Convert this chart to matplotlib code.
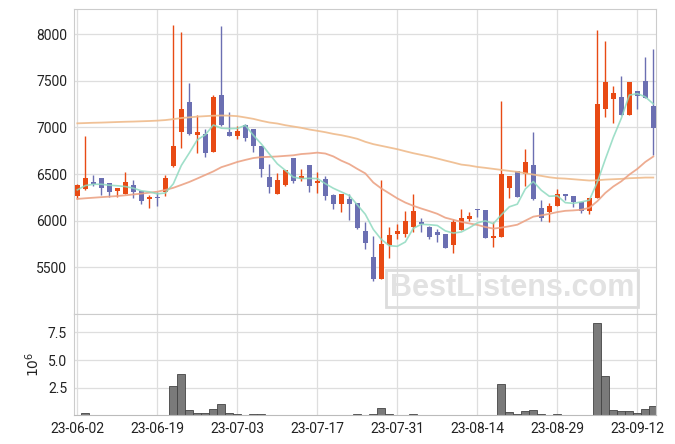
import matplotlib
matplotlib.use('Agg')
import matplotlib.pyplot as plt
import numpy as np
import pandas as pd

plt.rcParams['font.family'] = ['Roboto', 'DejaVu Sans']

# daily candles (index = trading day)
opens = [6269, 6340, 6415, 6455, 6401, 6322, 6290, 6383, 6315, 6233,
         6254, 6305, 6590, 6945, 7273, 6923, 6930, 6734, 7349, 6952,
         6902, 7027, 6984, 6802, 6473, 6283, 6387, 6673, 6451, 6594,
         6408, 6448, 6276, 6183, 6233, 6190, 5890, 5611, 5378, 5739,
         5854, 5854, 5929, 5990, 5932, 5879, 5857, 5743, 5900, 6018,
         6125, 6111, 5818, 5829, 6355, 6533, 6505, 6598, 6133, 6097,
         6161, 6283, 6262, 6197, 6108, 6247, 7192, 7302, 7328, 7127,
         7392, 7499, 7231]
highs = [6394, 6909, 6487, 6455, 6401, 6355, 6526, 6433, 6315, 6276,
         6312, 6494, 8100, 8021, 7473, 7131, 6981, 7345, 8089, 7163,
         7016, 7038, 6984, 6802, 6609, 6516, 6541, 6673, 6558, 6594,
         6526, 6480, 6290, 6287, 6283, 6190, 5990, 5832, 6435, 5936,
         5961, 6108, 6287, 6026, 5943, 5907, 5857, 6018, 6129, 6097,
         6130, 6111, 5986, 7285, 6476, 6533, 6770, 6948, 6219, 6190,
         6340, 6283, 6262, 6197, 6247, 8046, 7925, 7446, 7553, 7488,
         7392, 7757, 7839]
lows = [6233, 6330, 6376, 6276, 6251, 6258, 6290, 6240, 6176, 6133,
        6158, 6265, 6576, 6780, 6923, 6723, 6687, 6734, 7016, 6902,
        6880, 6855, 6734, 6465, 6294, 6283, 6376, 6401, 6423, 6305,
        6297, 6219, 6122, 6090, 6004, 5915, 5693, 5353, 5378, 5596,
        5800, 5829, 5875, 5875, 5800, 5775, 5707, 5650, 5900, 6000,
        6040, 5818, 5714, 5829, 6240, 6258, 6376, 6222, 5997, 5983,
        6161, 6219, 6144, 6086, 6068, 6247, 7116, 7045, 7134, 7127,
        7195, 7313, 6705]
closes = [6383, 6455, 6394, 6355, 6312, 6355, 6412, 6308, 6215, 6254,
          6247, 6458, 6801, 7199, 6926, 6952, 6723, 7327, 7027, 6902,
          6963, 6891, 6795, 6558, 6365, 6437, 6541, 6430, 6483, 6376,
          6426, 6269, 6183, 6287, 6183, 5925, 5764, 5374, 5750, 5847,
          5890, 5997, 6104, 5968, 5825, 5850, 5707, 5986, 6026, 6047,
          6115, 5818, 5832, 6501, 6476, 6258, 6630, 6233, 6033, 6154,
          6283, 6262, 6197, 6108, 6247, 7249, 7488, 7367, 7134, 7488,
          7331, 7313, 6991]
# volume in millions
volumes = [0.02, 0.18, 0.02, 0.02, 0.02, 0.02, 0.02, 0.02, 0.02, 0.02,
           0.02, 0.02, 2.64, 3.75, 0.48, 0.18, 0.18, 0.57, 1.0, 0.18,
           0.09, 0.03, 0.08, 0.08, 0.02, 0.02, 0.02, 0.02, 0.02, 0.02,
           0.02, 0.02, 0.02, 0.02, 0.02, 0.09, 0.02, 0.09, 0.64, 0.09,
           0.02, 0.02, 0.09, 0.02, 0.02, 0.02, 0.02, 0.02, 0.02, 0.02,
           0.02, 0.02, 0.02, 2.85, 0.27, 0.09, 0.36, 0.48, 0.09, 0.02,
           0.09, 0.02, 0.02, 0.02, 0.02, 8.36, 3.57, 0.48, 0.39, 0.39,
           0.18, 0.57, 0.85]

# moving averages: first values come from days before the window shown
ma5_head = [6330, 6376, 6390, 6390]
ma20_head = [6233, 6240, 6246, 6252, 6258, 6264, 6272, 6281, 6290, 6300,
             6310, 6330, 6352, 6383, 6415, 6452, 6490, 6528, 6573]
ma60 = [7043, 7046, 7049, 7051, 7054, 7057, 7060, 7062, 7065, 7068,
        7072, 7078, 7088, 7100, 7107, 7115, 7120, 7125, 7127, 7125,
        7120, 7106, 7091, 7070, 7052, 7041, 7023, 7009, 6995, 6977,
        6963, 6948, 6930, 6916, 6898, 6877, 6845, 6820, 6802, 6784,
        6766, 6744, 6723, 6705, 6687, 6666, 6644, 6623, 6601, 6591,
        6576, 6566, 6555, 6544, 6533, 6523, 6508, 6494, 6480, 6465,
        6455, 6451, 6444, 6437, 6430, 6433, 6440, 6444, 6448, 6455,
        6458, 6462, 6462]

tick_pos = [0, 10, 20, 30, 40, 50, 60, 70]
tick_labels = ['23-06-02', '23-06-19', '23-07-03', '23-07-17',
               '23-07-31', '23-08-14', '23-08-29', '23-09-12']

up_color = '#e84a14'
down_color = '#6b6fb2'

c = pd.Series(closes, dtype=float)
ma5 = c.rolling(5).mean().values
ma5[:4] = ma5_head
ma20 = c.rolling(20).mean().values
ma20[:19] = ma20_head

x = np.arange(len(closes))
o = np.array(opens)
cl = np.array(closes)
colors = [up_color if cc >= oo else down_color for oo, cc in zip(o, cl)]

fig = plt.figure(figsize=(6.75, 4.44), dpi=100)
ax = fig.add_axes([0.1096, 0.2928, 0.8618, 0.6869])
ax2 = fig.add_axes([0.1096, 0.0646, 0.8618, 0.2282], sharex=ax)

for a in (ax, ax2):
    a.grid(True, color='#dedede', linewidth=0.9)
    a.set_axisbelow(True)
    for s in a.spines.values():
        s.set_color('#cccccc')
    a.tick_params(length=0, labelsize=10, colors='#222222')

ax.vlines(x, lows, highs, colors=colors, linewidth=1.0, zorder=2)
ax.bar(x, np.abs(cl - o), bottom=np.minimum(o, cl), width=0.62,
       color=colors, zorder=3)
ax.plot(x, ma60, color='#efbb8c', linewidth=1.3, alpha=0.9, zorder=4)
ax.plot(x, ma20, color='#eca385', linewidth=1.3, alpha=0.9, zorder=4)
ax.plot(x, ma5, color='#8fdac0', linewidth=1.2, alpha=0.85, zorder=4)

ax.set_ylim(5000, 8268)
ax.set_yticks([5500, 6000, 6500, 7000, 7500, 8000])
ax.set_xlim(-0.42, 72.3)
ax.tick_params(axis='x', labelbottom=False)
ax.tick_params(axis='y', pad=5)

ax.text(0.753, 0.084, 'BestListens.com', transform=ax.transAxes,
        ha='center', va='center', fontsize=22, fontweight='bold',
        family='Liberation Sans', color='#e2e2e2', zorder=1,
        bbox=dict(boxstyle='square,pad=0.12', facecolor='none',
                  edgecolor='#dcdcdc', linewidth=2))

ax2.bar(x, volumes, width=1.0, color='#7a7a7a', edgecolor='#444444',
        linewidth=0.6, zorder=2)
ax2.set_ylim(0, 9.16)
ax2.set_yticks([2.5, 5.0, 7.5])
ax2.set_yticklabels(['2.5', '5.0', '7.5'])
ax2.set_xticks(tick_pos)
ax2.set_xticklabels(tick_labels)
ax2.tick_params(axis='x', pad=5)
ax2.tick_params(axis='y', pad=5)
ax2.spines['bottom'].set_color('#bbbbbb')
ax2.set_ylabel(r'$10^6$', fontsize=10, color='#222222')
ax2.yaxis.set_label_coords(-0.055, 0.5)

fig.savefig('out.png', dpi=100)
